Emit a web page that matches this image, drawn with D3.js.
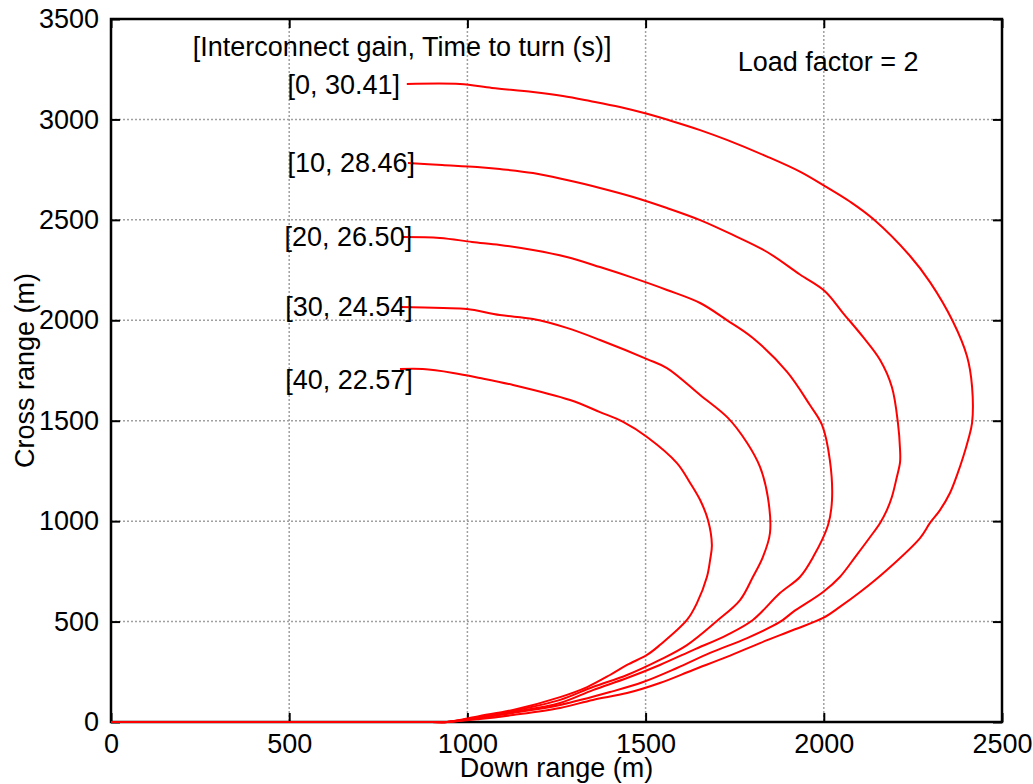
<!DOCTYPE html>
<html>
<head>
<meta charset="utf-8">
<script src="https://cdnjs.cloudflare.com/ajax/libs/d3/7.8.5/d3.min.js"></script>
<style>
  body { margin: 0; background: #fff; }
  text { font-family: "Liberation Sans", Arial, Helvetica, sans-serif; fill: #000; }
</style>
</head>
<body>
<svg id="chart" width="1033" height="784"></svg>
<script>
// turn trajectories, [down range, cross range] in metres, one per interconnect gain
var gains = [0, 10, 20, 30, 40];
var turnTimes = [30.41, 28.46, 26.50, 24.54, 22.57];

var track_g0 = [[0,0],[900,0],[943,0],[1035,15],[1128,35],[1260,70],[1352,110],[1448,144],[1540,194],[1633,259],
    [1728,324],[1821,393],[1914,458],[1998,518],[2045,573],[2102,647],[2177,757],[2270,916],[2298,991],
    [2326,1055],[2354,1140],[2376,1240],[2391,1319],[2405,1404],[2416,1489],[2416,1670],[2402,1820],
    [2362,1995],[2298,2190],[2242,2320],[2138,2505],[2074,2590],[2003,2668],[1933,2740],[1841,2815],
    [1728,2898],[1653,2947],[1577,2990],[1504,3028],[1428,3062],[1344,3092],[1268,3117],[1184,3137],
    [1069,3157],[979,3176],[830,3176]];

var track_g10 = [[0,0],[900,0],[943,0],[1035,20],[1128,45],[1260,85],[1400,149],[1493,199],[1588,269],[1681,344],
    [1785,418],[1877,498],[1914,548],[1998,647],[2045,722],[2090,826],[2130,921],[2158,991],[2177,1055],
    [2191,1120],[2205,1220],[2214,1294],[2214,1354],[2208,1489],[2191,1668],[2158,1802],[2110,1917],
    [2054,2036],[2003,2145],[1933,2228],[1841,2340],[1745,2425],[1653,2499],[1560,2559],[1465,2614],
    [1372,2659],[1279,2698],[1184,2733],[1091,2753],[1027,2763],[929,2773],[833,2783]];

var track_g20 = [[0,0],[900,0],[943,0],[1035,25],[1128,50],[1260,95],[1352,159],[1448,219],[1540,284],[1633,358],
    [1728,433],[1801,508],[1877,642],[1933,722],[1970,821],[2012,981],[2023,1105],[2017,1304],[1995,1479],
    [1961,1578],[1897,1743],[1801,1912],[1728,2001],[1653,2086],[1560,2151],[1465,2211],[1372,2265],
    [1279,2315],[1184,2350],[1091,2375],[1013,2390],[923,2410],[819,2415]];

var track_g30 = [[0,0],[900,0],[943,0],[1035,25],[1128,55],[1260,110],[1352,174],[1448,234],[1540,309],[1616,383],
    [1700,503],[1765,607],[1801,722],[1829,821],[1849,941],[1843,1120],[1821,1270],[1785,1389],[1731,1514],
    [1653,1628],[1560,1762],[1504,1807],[1372,1902],[1279,1962],[1184,2006],[1091,2026],[999,2056],
    [932,2061],[811,2066]];

var track_g40 = [[0,0],[900,0],[943,0],[1035,30],[1128,60],[1260,124],[1336,174],[1400,234],[1448,284],[1504,334],
    [1540,383],[1616,508],[1644,592],[1672,722],[1681,807],[1686,881],[1675,1006],[1653,1105],[1625,1190],
    [1588,1289],[1504,1419],[1437,1494],[1372,1543],[1288,1603],[1128,1678],[1035,1713],[960,1738],
    [875,1757],[811,1757]];

var tracks = [track_g0, track_g10, track_g20, track_g30, track_g40];

var xTicks = [0, 500, 1000, 1500, 2000, 2500];
var yTicks = [0, 500, 1000, 1500, 2000, 2500, 3000, 3500];

var margin = {left: 111, top: 19, right: 31, bottom: 62};
var width = 1033 - margin.left - margin.right;
var height = 784 - margin.top - margin.bottom;

var svg = d3.select('#chart');
var g = svg.append('g').attr('transform', 'translate(' + margin.left + ',' + margin.top + ')');

var x = d3.scaleLinear().domain([0, 2500]).range([0, width]);
var y = d3.scaleLinear().domain([0, 3500]).range([height, 0]);

// dotted grid
var grid = g.append('g').attr('stroke', '#a0a0a0').attr('stroke-width', 1.5).attr('stroke-dasharray', '2,2');
xTicks.forEach(function (t) {
    grid.append('line').attr('x1', x(t)).attr('x2', x(t)).attr('y1', 0).attr('y2', height);
});
yTicks.forEach(function (t) {
    grid.append('line').attr('x1', 0).attr('x2', width).attr('y1', y(t)).attr('y2', y(t));
});

// frame
g.append('rect').attr('x', 0).attr('y', 0).attr('width', width).attr('height', height)
    .attr('fill', 'none').attr('stroke', '#000').attr('stroke-width', 2.5);

// axes with inward ticks, mirrored on top and right
var fontSize = 27;
var bottomAxis = g.append('g').attr('transform', 'translate(0,' + height + ')')
    .call(d3.axisBottom(x).tickValues(xTicks).tickSize(-9).tickPadding(12).tickFormat(d3.format('d')));
var leftAxis = g.append('g')
    .call(d3.axisLeft(y).tickValues(yTicks).tickSize(-9).tickPadding(12).tickFormat(d3.format('d')));
var topAxis = g.append('g')
    .call(d3.axisTop(x).tickValues(xTicks).tickSize(-9).tickFormat(''));
var rightAxis = g.append('g').attr('transform', 'translate(' + width + ',0)')
    .call(d3.axisRight(y).tickValues(yTicks).tickSize(-9).tickFormat(''));

[bottomAxis, leftAxis, topAxis, rightAxis].forEach(function (a) {
    a.select('.domain').remove();
    a.selectAll('.tick line').attr('stroke', '#000').attr('stroke-width', 2);
    a.selectAll('.tick text').attr('font-size', fontSize).attr('fill', '#000')
        .style('font-family', '"Liberation Sans", Arial, sans-serif');
});

// trajectories
var line = d3.line()
    .x(function (d) { return x(d[0]); })
    .y(function (d) { return y(d[1]); })
    .curve(d3.curveCatmullRom.alpha(0.5));
tracks.forEach(function (track) {
    g.append('path').datum(track).attr('d', line)
        .attr('fill', 'none').attr('stroke', '#ff0000').attr('stroke-width', 2)
        .attr('stroke-linejoin', 'round');
});

// curve labels, right aligned next to the start of each turn
var labelAt = [[811, 3176], [853, 2783], [845, 2415], [847, 2066], [847, 1703]];
gains.forEach(function (gain, i) {
    g.append('text')
        .attr('x', x(labelAt[i][0])).attr('y', y(labelAt[i][1]))
        .attr('dy', '0.35em').attr('text-anchor', 'end').attr('font-size', fontSize)
        .text('[' + gain + ', ' + turnTimes[i].toFixed(2) + ']');
});

g.append('text').attr('x', x(817)).attr('y', y(3361)).attr('dy', '0.35em')
    .attr('text-anchor', 'middle').attr('font-size', fontSize)
    .text('[Interconnect gain, Time to turn (s)]');

g.append('text').attr('x', x(2012)).attr('y', y(3286)).attr('dy', '0.35em')
    .attr('text-anchor', 'middle').attr('font-size', fontSize)
    .text('Load factor = 2');

// axis titles
svg.append('text').attr('x', margin.left + width / 2).attr('y', 777)
    .attr('text-anchor', 'middle').attr('font-size', fontSize).text('Down range (m)');
svg.append('text').attr('transform', 'translate(34,' + (margin.top + height / 2) + ') rotate(-90)')
    .attr('text-anchor', 'middle').attr('font-size', fontSize).text('Cross range (m)');
</script>
</body>
</html>
